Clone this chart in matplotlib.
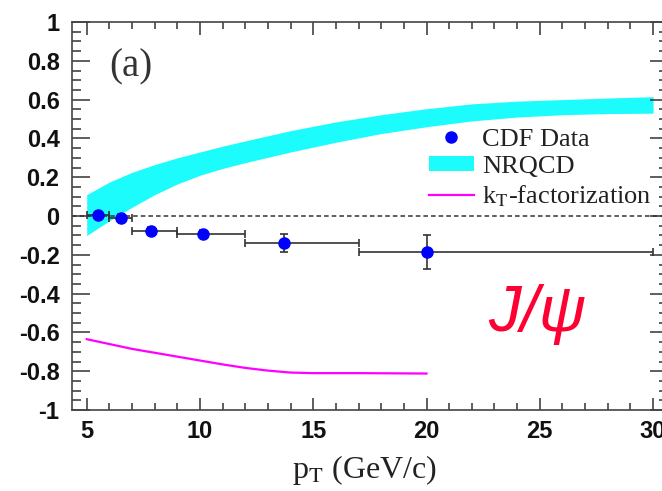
import matplotlib
matplotlib.use("Agg")
import matplotlib.pyplot as plt
from matplotlib.ticker import MultipleLocator, FuncFormatter
from matplotlib.lines import Line2D
from matplotlib.patches import Patch
import numpy as np

plt.rcParams['axes.unicode_minus'] = False
plt.rcParams['mathtext.fontset'] = 'stix'

# CDF J/psi polarization, bins in pT
bin_lo = np.array([5, 6, 7, 9, 12, 17])
bin_hi = np.array([6, 7, 9, 12, 17, 30])
cdf_pt = np.array([5.5, 6.5, 7.85, 10.15, 13.7, 20.0])
cdf_lam = np.array([0.003, -0.012, -0.076, -0.093, -0.138, -0.185])
cdf_err = np.array([0.02, 0.02, 0.02, 0.02, 0.045, 0.088])

# NRQCD band
nrqcd_pt = [5, 6, 7, 8, 9, 10, 11, 12, 14, 16, 18, 20, 22, 24, 26, 28, 30]
nrqcd_hi = [0.11, 0.175, 0.225, 0.265, 0.30, 0.33, 0.36, 0.387, 0.44, 0.485,
            0.522, 0.553, 0.578, 0.592, 0.60, 0.608, 0.615]
nrqcd_lo = [-0.10, -0.025, 0.045, 0.11, 0.165, 0.21, 0.245, 0.275, 0.33, 0.38,
            0.425, 0.46, 0.49, 0.51, 0.522, 0.528, 0.53]

# kT-factorization curve
kt_pt = [5, 6, 7, 8, 9, 10, 11, 12, 13, 14, 15, 17, 20]
kt_lam = [-0.635, -0.66, -0.685, -0.705, -0.725, -0.745, -0.765, -0.783, -0.797, -0.807, -0.81, -0.81, -0.812]

band_color = '#1cfcfc'
serif = 'Liberation Serif'

fig = plt.figure(figsize=(6.62, 4.91), dpi=100)
ax = fig.add_axes([72 / 662, 81 / 491, 596 / 662, 388 / 491])

ax.fill_between(nrqcd_pt, nrqcd_lo, nrqcd_hi, color=band_color, lw=0, zorder=1)
ax.axhline(0, color='#333333', ls=(0, (3, 2)), lw=1.1, zorder=2)
ax.plot(kt_pt, kt_lam, color='#ff00ff', lw=1.6, zorder=2)
xerr = [cdf_pt - bin_lo, bin_hi - cdf_pt]
ax.errorbar(cdf_pt, cdf_lam, xerr=xerr, yerr=cdf_err, fmt='o', color='blue',
            ecolor='#333333', elinewidth=1.2, capsize=3, capthick=1.2,
            markersize=8, zorder=3)

ax.set_xlim(4.35, 30.66)
ax.set_ylim(-1, 1)
ax.xaxis.set_major_locator(MultipleLocator(5))
ax.xaxis.set_minor_locator(MultipleLocator(1))
ax.yaxis.set_major_locator(MultipleLocator(0.2))
ax.yaxis.set_minor_locator(MultipleLocator(0.05))
ax.yaxis.set_major_formatter(FuncFormatter(lambda v, p: f'{round(v, 2) + 0:g}'))

ax.tick_params(which='both', direction='in', top=True, right=True,
               color='#333333', width=1.1)
ax.tick_params(axis='y', which='major', length=13, pad=9)
ax.tick_params(axis='y', which='minor', length=6.5)
ax.tick_params(axis='x', which='major', length=9, pad=7)
ax.tick_params(axis='x', which='minor', length=5)
for lab in ax.get_xticklabels() + ax.get_yticklabels():
    lab.set_fontfamily('Liberation Sans')
    lab.set_fontweight('bold')
    lab.set_fontsize(17)
    lab.set_color('#111111')
for sp in ax.spines.values():
    sp.set_linewidth(1.2)
    sp.set_color('#444444')

ax.set_xlabel(r'p$_{\rm T}$ (GeV/c)', family=serif, fontsize=23, color='#222222')
ax.xaxis.set_label_coords(0.49, -0.11)

ax.text(0.099, 0.884, '(a)', transform=ax.transAxes, family=serif, fontsize=28,
        color='#333333', ha='center', va='center')
ax.text(0.781, 0.245, 'J/ψ', transform=ax.transAxes, family='Liberation Sans',
        style='italic', fontsize=47, color='#ff0033', ha='center', va='center')

handles = [Line2D([], [], marker='o', ls='none', color='blue', markersize=8),
           Patch(facecolor=band_color, edgecolor='none'),
           Line2D([], [], color='#ff00ff', lw=1.6)]
labels = ['CDF Data', 'NRQCD', r'k$_{\rm T}$-factorization']
ax.legend(handles, labels, loc='upper left', bbox_to_anchor=(0.599, 0.725),
          frameon=False, borderpad=0, borderaxespad=0, handlelength=1.7,
          handleheight=0.45, handletextpad=0.3, labelspacing=0.2,
          prop={'family': serif, 'size': 19}, labelcolor='#222222')

fig.savefig('out.png', dpi=100)
